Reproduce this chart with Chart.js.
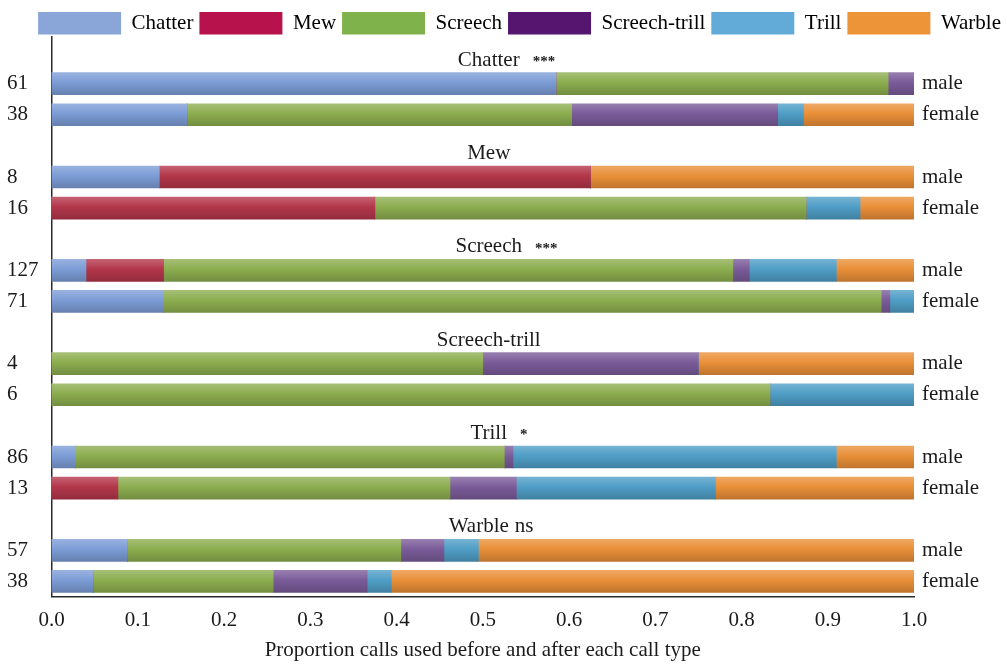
<!DOCTYPE html>
<html>
<head>
<meta charset="utf-8">
<style>
  html, body { margin: 0; padding: 0; background: #ffffff; }
  #wrap { width: 1007px; height: 664px; }
</style>
<script src="https://cdn.jsdelivr.net/npm/chart.js@4/dist/chart.umd.min.js"></script>
</head>
<body>
<div id="wrap"><canvas id="c" width="1007" height="664"></canvas></div>
<script>
// Preceding call types (one block per type), with significance of the sex difference
const callTypes = ['Chatter', 'Mew', 'Screech', 'Screech-trill', 'Trill', 'Warble'];
const significance = ['***', '', '***', '', '*', 'ns'];
const maleCounts = [61, 8, 127, 4, 86, 57];
const femaleCounts = [38, 16, 71, 6, 13, 38];
const sexLabels = ['male', 'female'];

// Proportion of each following call type, rows ordered
// [Chatter m, Chatter f, Mew m, Mew f, Screech m, Screech f,
//  Screech-trill m, Screech-trill f, Trill m, Trill f, Warble m, Warble f]
const chatterShare      = [0.585, 0.157, 0.125, 0,      0.04,  0.13,  0,    0,     0.028, 0,     0.088, 0.048];
const mewShare          = [0,     0,     0.5,   0.375,  0.09,  0,     0,    0,     0,     0.077, 0,     0];
const screechShare      = [0.385, 0.446, 0,     0.5,    0.66,  0.832, 0.5,  0.833, 0.497, 0.385, 0.317, 0.209];
const screechTrillShare = [0.03,  0.239, 0,     0,      0.019, 0.01,  0.25, 0,     0.01,  0.077, 0.05,  0.109];
const trillShare        = [0,     0.03,  0,     0.0625, 0.101, 0.028, 0,    0.167, 0.375, 0.231, 0.04,  0.028];
const warbleShare       = [0,     0.128, 0.375, 0.0625, 0.09,  0,     0.25, 0,     0.09,  0.231, 0.505, 0.606];

const xTickLabels = ['0.0','0.1','0.2','0.3','0.4','0.5','0.6','0.7','0.8','0.9','1.0'];

const seriesNames = ['Chatter', 'Mew', 'Screech', 'Screech-trill', 'Trill', 'Warble'];
const seriesValues = [chatterShare, mewShare, screechShare, screechTrillShare, trillShare, warbleShare];
const barColors    = ['#7c9cd6', '#b3364a', '#8cad4f', '#7a5b99', '#4f9dc6', '#e98f38'];
const legendColors = ['#8aa6d8', '#b8124c', '#80b24c', '#561670', '#62aad8', '#ee9438'];

// Each block = title row, male row, female row
const rowKeys = [];
const leftLabels = [];
const rightLabels = [];
callTypes.forEach((t, i) => {
  rowKeys.push(t + '|title', t + '|male', t + '|female');
  leftLabels.push('', String(maleCounts[i]), String(femaleCounts[i]));
  rightLabels.push('', sexLabels[0], sexLabels[1]);
});

function expandRows(values) {
  const out = [];
  for (let i = 0; i < callTypes.length; i++) {
    out.push(null, values[2 * i], values[2 * i + 1]);
  }
  return out;
}

function shade(hex, amt) {
  const n = parseInt(hex.slice(1), 16);
  const r = (n >> 16) & 255, g = (n >> 8) & 255, b = n & 255;
  const f = (c) => amt >= 0 ? Math.round(c + (255 - c) * amt) : Math.round(c * (1 + amt));
  return 'rgb(' + f(r) + ',' + f(g) + ',' + f(b) + ')';
}

const BAR_H = 22;
function barFill(color) {
  return (ctx) => {
    const chart = ctx.chart;
    const ys = chart.scales && chart.scales.y;
    if (!ys || ctx.type !== 'data') return color;
    const yc = ys.getPixelForValue(ctx.dataIndex);
    if (!isFinite(yc)) return color;
    const g = chart.ctx.createLinearGradient(0, yc - BAR_H / 2, 0, yc + BAR_H / 2);
    g.addColorStop(0, shade(color, 0.22));
    g.addColorStop(0.45, color);
    g.addColorStop(1, shade(color, -0.18));
    return g;
  };
}

const FONT = "'Liberation Serif', 'Times New Roman', serif";
const FS = 21;
const TEXT = '#1b1b1b';

// Block headings above each pair of bars
const blockTitles = {
  id: 'blockTitles',
  afterDatasetsDraw(chart) {
    const { ctx, chartArea, scales } = chart;
    const cx = (chartArea.left + chartArea.right) / 2 + 6;
    ctx.save();
    ctx.fillStyle = TEXT;
    ctx.textBaseline = 'middle';
    ctx.textAlign = 'left';
    callTypes.forEach((t, i) => {
      const y = scales.y.getPixelForValue(3 * i) + 7.5;
      const sig = significance[i];
      ctx.font = FS + 'px ' + FONT;
      const wName = ctx.measureText(t).width;
      const x0 = cx - wName / 2 - (sig === 'ns' ? 10 : 0);
      ctx.fillText(t, x0, y);
      if (sig === 'ns') {
        ctx.fillText(sig, x0 + wName + 6, y);
      } else if (sig) {
        ctx.font = 'bold 15px ' + FONT;
        ctx.fillText(sig, x0 + wName + 13, y + 2);
      }
    });
    ctx.restore();
  }
};

const datasets = seriesNames.map((name, i) => ({
  label: name,
  data: expandRows(seriesValues[i]),
  backgroundColor: barFill(barColors[i]),
  borderWidth: 0,
  barThickness: BAR_H,
  stack: 'calls'
}));

Chart.defaults.font.family = FONT;
Chart.defaults.color = TEXT;

new Chart(document.getElementById('c'), {
  type: 'bar',
  data: { labels: rowKeys, datasets },
  plugins: [blockTitles],
  options: {
    indexAxis: 'y',
    responsive: false,
    animation: false,
    layout: { padding: { left: 7, right: 0, top: 6, bottom: 6 } },
    plugins: {
      tooltip: { enabled: false },
      legend: {
        position: 'top',
        align: 'end',
        maxHeight: 31,
        labels: {
          boxWidth: 83,
          boxHeight: 22.5,
          padding: 6,
          font: { size: FS, family: FONT },
          color: TEXT,
          generateLabels: (chart) => chart.data.datasets.map((ds, i) => ({
            text: ds.label,
            fillStyle: legendColors[i],
            strokeStyle: legendColors[i],
            lineWidth: 0,
            hidden: false,
            datasetIndex: i
          }))
        }
      }
    },
    scales: {
      x: {
        type: 'linear',
        stacked: true,
        min: 0,
        max: 1,
        grid: { display: false, drawTicks: false },
        border: { display: true, color: '#2a2a2a', width: 1.5 },
        ticks: {
          stepSize: 0.1,
          padding: 13,
          font: { size: FS, lineHeight: 1.0 },
          color: TEXT,
          callback: (v) => xTickLabels[Math.round(v * 10)]
        },
        title: {
          display: true,
          text: 'Proportion calls used before and after each call type',
          font: { size: FS, lineHeight: 0.62 },
          color: TEXT,
          padding: { top: 0, bottom: 1 }
        }
      },
      y: {
        type: 'category',
        stacked: true,
        position: 'left',
        offset: true,
        grid: { display: false, drawTicks: false },
        border: { display: true, color: '#2a2a2a', width: 1.5 },
        ticks: {
          crossAlign: 'far',
          padding: 4,
          autoSkip: false,
          font: { size: FS },
          color: TEXT,
          callback: (v, i) => leftLabels[i]
        },
        afterFit: (s) => { s.width = 44.5; }
      },
      yRight: {
        type: 'category',
        position: 'right',
        offset: true,
        labels: rowKeys,
        grid: { display: false, drawTicks: false },
        border: { display: false },
        ticks: {
          padding: 8,
          autoSkip: false,
          font: { size: FS },
          color: TEXT,
          callback: (v, i) => rightLabels[i]
        },
        afterFit: (s) => { s.width = 93; }
      }
    }
  }
});
</script>
</body>
</html>
